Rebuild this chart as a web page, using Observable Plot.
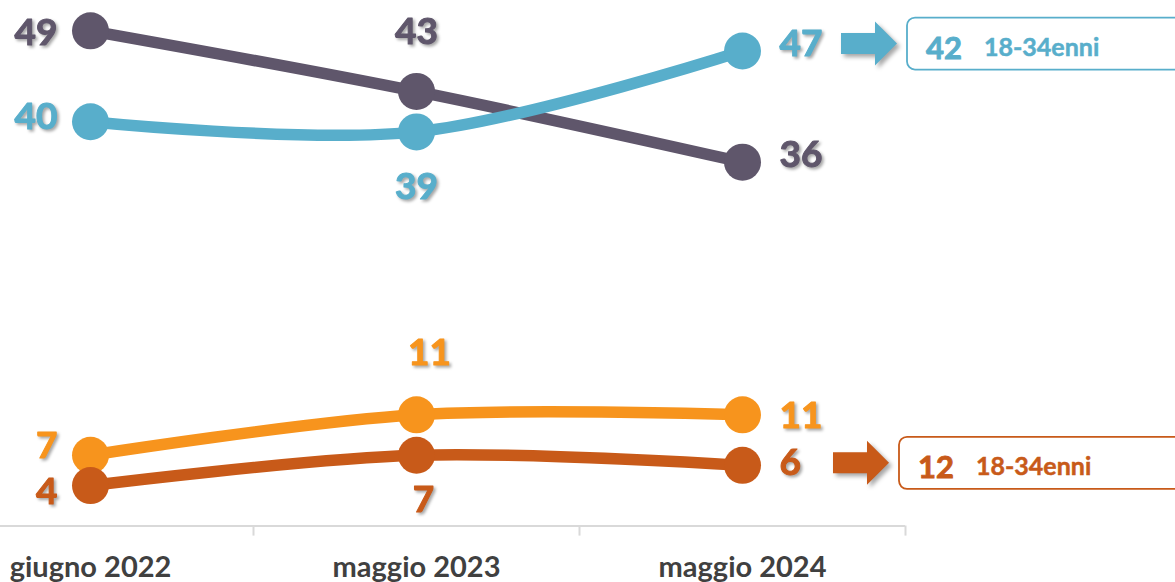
<!DOCTYPE html>
<html>
<head>
<meta charset="utf-8">
<script src="https://cdn.jsdelivr.net/npm/d3@7"></script>
<script src="https://cdn.jsdelivr.net/npm/@observablehq/plot@0.6"></script>
<style>
  html, body { margin: 0; padding: 0; background: #fff; overflow: hidden; }
  #chart svg { display: block; }
  g[aria-label="text"] { filter: drop-shadow(2px 2px 1.5px rgba(0,0,0,0.35)); }
  .arrow { filter: drop-shadow(3px 3px 2px rgba(0,0,0,0.35)); }
</style>
</head>
<body>
<div id="chart"></div>
<script>
// ---- data ----
const periods = ["giugno 2022", "maggio 2023", "maggio 2024"];
const seriesKeys = ["viola", "azzurro", "arancio", "ruggine"];
const violaValues = [49, 43, 36];
const azzurroValues = [40, 39, 47];
const arancioValues = [7, 11, 11];
const ruggineValues = [4, 7, 6];
const youthSeries = ["azzurro", "ruggine"];
const youthValues = [42, 12];
const youthLabels = ["18-34enni", "18-34enni"];

// ---- styles ----
const styles = {
  viola:   {color: "#5f566b", leftDy: 2,  midDy: -59, midDx: 0,  rightDy: -7},
  azzurro: {color: "#58aecb", leftDy: -5, midDy: 55,  midDx: 0,  rightDy: -7},
  arancio: {color: "#f7941d", leftDy: -9, midDy: -62, midDx: 13, rightDy: 1},
  ruggine: {color: "#c85a19", leftDy: 7,  midDy: 45,  midDx: 7,  rightDy: -2}
};
const annStyles = {
  azzurro: {shift: 8, dy: -7},
  ruggine: {shift: 0, dy: -2}
};
const FONT = "Lato, 'Open Sans', sans-serif";

const valuesByKey = {viola: violaValues, azzurro: azzurroValues, arancio: arancioValues, ruggine: ruggineValues};
const rowsByKey = {};
for (const k of seriesKeys) rowsByKey[k] = valuesByKey[k].map((v, i) => ({key: k, i, v}));
const last = periods.length - 1;
const boundaries = periods.map((d, i) => i + 0.5);

const marks = [];
// axis line + boundary ticks
marks.push(Plot.ruleY([0], {x1: -0.5, x2: periods.length - 0.5, stroke: "#d9d9d9", strokeWidth: 2}));
marks.push(Plot.ruleX(boundaries, {x: d => d, y1: 0, y2: -1, stroke: "#d9d9d9", strokeWidth: 2}));

for (const k of seriesKeys) {
  const s = styles[k];
  const rows = rowsByKey[k];
  marks.push(Plot.line(rows, {x: "i", y: "v", stroke: s.color, strokeWidth: 11.5, curve: "catmull-rom"}));
  marks.push(Plot.dot(rows, {x: "i", y: "v", r: 18.5, fill: s.color, stroke: "none"}));
}
const textBase = {x: "i", y: "v", text: d => String(d.v), fontFamily: FONT, fontWeight: "bold", fontSize: 37, strokeWidth: 1};
for (const k of seriesKeys) {
  const s = styles[k];
  const rows = rowsByKey[k];
  marks.push(Plot.text(rows.filter(d => d.i === 0), {...textBase, fill: s.color, stroke: s.color, textAnchor: "end", dx: -33, dy: s.leftDy}));
  marks.push(Plot.text(rows.filter(d => d.i > 0 && d.i < last), {...textBase, fill: s.color, stroke: s.color, textAnchor: "middle", dx: s.midDx, dy: s.midDy}));
  marks.push(Plot.text(rows.filter(d => d.i === last), {...textBase, fill: s.color, stroke: s.color, textAnchor: "start", dx: 37, dy: s.rightDy}));
}

// x axis labels
marks.push(Plot.axisX(periods.map((d, i) => i), {
  tickFormat: i => periods[i], tickSize: 0, tickPadding: 30, label: null,
  fontSize: 29, fontWeight: "bold", fontFamily: FONT, color: "#404040"
}));

// annotations: arrow + rounded box for 18-34enni
marks.push((index, scales, values, dims, context) => {
  const g = d3.create("svg:g").attr("text-anchor", "start");
  youthSeries.forEach((k, j) => {
    const s = styles[k], a = annStyles[k];
    const cx = scales.x(last) + a.shift;
    const cy = scales.y(valuesByKey[k][last]) + a.dy;
    const x0 = cx + 91, xh = cx + 125, xt = cx + 147;
    const bh = 10.5, hh = 22;
    g.append("path")
      .attr("class", "arrow")
      .attr("d", `M${x0},${cy - bh}L${xh},${cy - bh}L${xh},${cy - hh}L${xt},${cy}L${xh},${cy + hh}L${xh},${cy + bh}L${x0},${cy + bh}Z`)
      .attr("fill", s.color);
    const bx = cx + 157;
    g.append("rect")
      .attr("x", bx).attr("y", cy - 26).attr("width", 320).attr("height", 52)
      .attr("rx", 8).attr("ry", 8)
      .attr("fill", "#fff").attr("stroke", s.color).attr("stroke-width", 1.8);
    g.append("text")
      .attr("x", bx + 19).attr("y", cy + 15)
      .attr("text-anchor", "start")
      .attr("font-family", FONT).attr("font-weight", "bold").attr("font-size", 31)
      .attr("fill", s.color).attr("stroke", s.color).attr("stroke-width", 0.9)
      .text(String(youthValues[j]));
    g.append("text")
      .attr("x", bx + 77).attr("y", cy + 12.5)
      .attr("text-anchor", "start")
      .attr("font-family", FONT).attr("font-weight", "bold").attr("font-size", 25)
      .attr("fill", s.color).attr("stroke", s.color).attr("stroke-width", 0.5)
      .text(youthLabels[j]);
  });
  return g.node();
});

const chart = Plot.plot({
  width: 1175,
  height: 582,
  marginTop: 0,
  marginBottom: 56.5,
  marginLeft: 0,
  marginRight: 0,
  x: {type: "linear", domain: [-0.5, periods.length - 0.5], range: [-73, 905], axis: null, label: null},
  y: {domain: [0, 52], axis: null},
  marks
});
document.getElementById("chart").appendChild(chart);
</script>
</body>
</html>
